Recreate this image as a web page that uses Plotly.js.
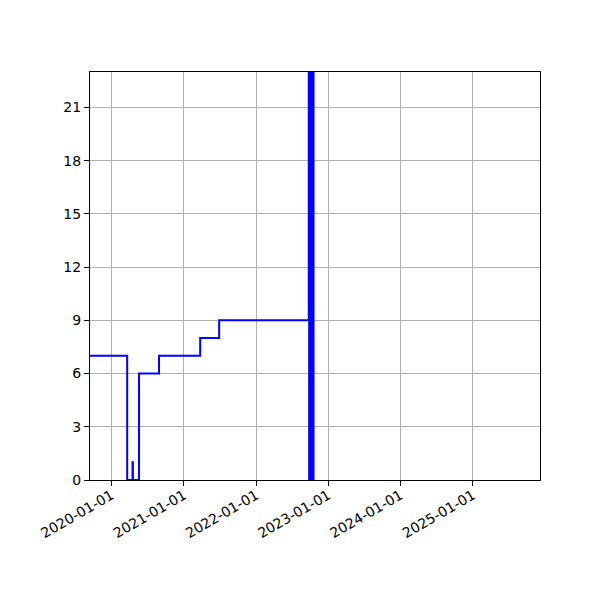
<!DOCTYPE html>
<html>
<head>
<meta charset="utf-8">
<script src="https://cdn.plot.ly/plotly-3.0.1.min.js"></script>
<style>html,body{margin:0;padding:0;background:#fff;}#chart{width:600px;height:600px;}</style>
</head>
<body>
<div id="chart"></div>
<script>
// Step series
const dates = [
  "2019-09-01", "2020-03-20", "2020-04-16", "2020-04-18", "2020-05-19",
  "2020-08-28", "2021-03-24", "2021-06-28",
  "2022-09-24", "2022-09-26", "2022-09-28", "2022-09-30", "2022-10-02",
  "2022-10-04", "2022-10-06", "2022-10-08", "2022-10-10", "2022-10-12",
  "2022-10-14", "2022-10-16", "2022-10-18"
];
const values = [
  7, 0, 1, 0, 6,
  7, 8, 9,
  40, 0, 40, 0, 40,
  0, 40, 0, 40, 0,
  40, 0, 40
];
const tickDates = ["2020-01-01", "2021-01-01", "2022-01-01", "2023-01-01", "2024-01-01", "2025-01-01"];
const tickLabels = ["2020-01-01", "2021-01-01", "2022-01-01", "2023-01-01", "2024-01-01", "2025-01-01"];
const yTicks = [0, 3, 6, 9, 12, 15, 18, 21];
const xRange = ["2019-09-14", "2025-12-06"];
const yRange = [0, 23];

const trace = {
  x: dates, y: values, type: "scatter", mode: "lines",
  line: {shape: "hv", color: "#0000ff", width: 2},
  hoverinfo: "skip"
};

const axisCommon = {
  showline: true, linecolor: "#000", linewidth: 1, mirror: true,
  ticks: "outside", ticklen: 5, tickwidth: 1, tickcolor: "#000",
  showgrid: true, gridcolor: "#b0b0b0", gridwidth: 1,
  zeroline: false,
  tickfont: {family: "DejaVu Sans", size: 14, color: "#000"}
};

const layout = {
  width: 600, height: 600,
  margin: {l: 90, r: 60, t: 72, b: 120},
  paper_bgcolor: "#fff", plot_bgcolor: "#fff",
  showlegend: false,
  xaxis: Object.assign({}, axisCommon, {
    type: "date", range: xRange,
    tickmode: "array", tickvals: tickDates, ticktext: tickLabels,
    tickangle: -30, ticklabelstandoff: -4
  }),
  yaxis: Object.assign({}, axisCommon, {
    range: yRange, tickmode: "array", tickvals: yTicks
  })
};

Plotly.newPlot("chart", [trace], layout, {staticPlot: true, displayModeBar: false});
</script>
</body>
</html>
